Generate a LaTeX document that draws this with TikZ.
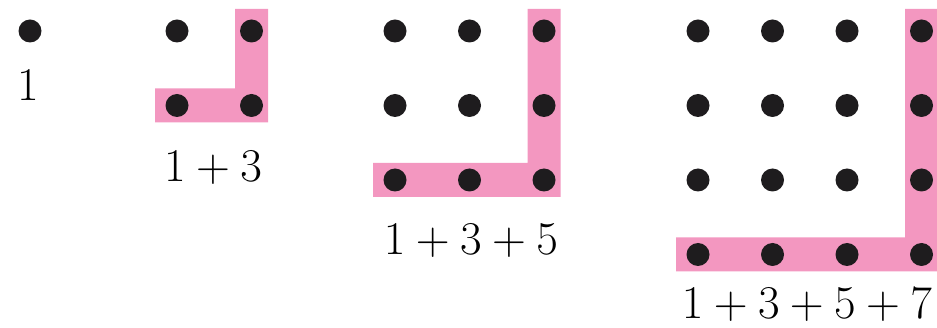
\RequirePackage{fix-cm}
\documentclass[tikz,border=0pt]{standalone}
\usepackage{xcolor}
\definecolor{lpink}{RGB}{243,151,192}
\definecolor{dotblack}{RGB}{30,28,30}
\begin{document}
\begin{tikzpicture}[x=1pt,y=-1pt,
  dotnode/.style={circle,fill=dotblack,inner sep=0pt,minimum size=23pt},
  sumlabel/.style={anchor=base,inner sep=0pt,font=\fontsize{47}{50}\selectfont}]
\useasboundingbox (0,0) rectangle (937,328);
% pink L shapes
\foreach \n/\xo in {2/177,3/395,4/698}{
  \pgfmathsetmacro{\xr}{\xo+(\n-1)*74.5}
  \pgfmathsetmacro{\yb}{31+(\n-1)*74.5}
  \fill[lpink] (\xo-22,\yb-17) -- (\xr-16.5,\yb-17) -- (\xr-16.5,9) -- (\xr+16.5,9)
     -- (\xr+16.5,\yb+17) -- (\xo-22,\yb+17) -- cycle;
}
% dots
\foreach \n/\xo in {1/30,2/177,3/395,4/698}{
  \foreach \i in {1,...,\n}{
    \foreach \j in {1,...,\n}{
      \node[dotnode] (d\n-\i-\j) at ({\xo+(\i-1)*74.5},{31+(\j-1)*74.5}) {};
    }
  }
}
% labels
\node[sumlabel] (lab1) at (28,101) {$1$};
\node[sumlabel] (lab2) at (213,182) {$1+3$};
\node[sumlabel] (lab3) at (471,255) {$1+3+5$};
\node[sumlabel] (lab4) at (807,319) {$1+3+5+7$};
\end{tikzpicture}
\end{document}
